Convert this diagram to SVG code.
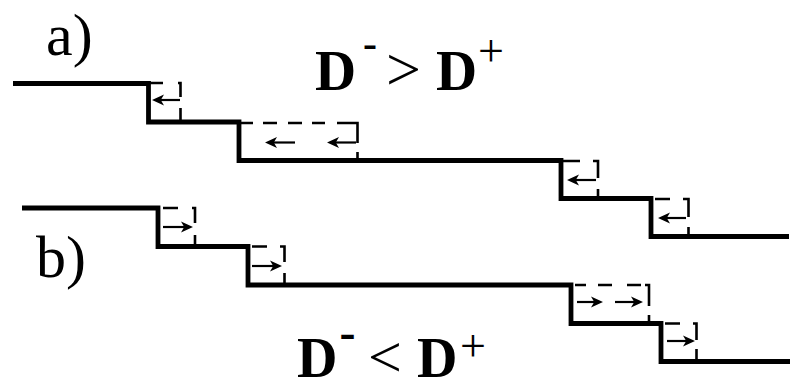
<svg xmlns="http://www.w3.org/2000/svg" width="792" height="381" viewBox="0 0 792 381">
<style>
.step{fill:none;stroke:#000;stroke-width:4.8;stroke-linejoin:miter;stroke-linecap:butt}
.dash{fill:none;stroke:#000;stroke-width:2.6;stroke-linejoin:miter;stroke-linecap:butt}
.arr{fill:none;stroke:#000;stroke-width:2.2;marker-end:url(#ah)}
.lbl{font-family:"Liberation Serif","Times New Roman",serif;font-size:60px;fill:#000}
.eq{font-family:"Liberation Serif","Times New Roman",serif;fill:#000}
.b{font-weight:bold}
</style>
<defs>
<marker id="ah" markerUnits="userSpaceOnUse" viewBox="0 0 12 12" markerWidth="12" markerHeight="12" refX="7" refY="6" orient="auto">
<path d="M0,0.6 L12,6 L0,11.4 L3.2,6 Z" fill="#000"/>
</marker>
</defs>
<rect width="792" height="381" fill="#fff"/>
<g id="staircase-a">
<polyline class="step" points="13,83.5 148.5,83.5 148.5,122 239,122 239,160.5 561,160.5 561,198.5 651,198.5 651,236.5 789,236.5"/>
</g>
<g id="staircase-b">
<polyline class="step" points="22,208 158,208 158,246.5 248,246.5 248,285 571,285 571,323.5 661,323.5 661,361.5 790,361.5"/>
</g>
<g id="box-a1"><path class="dash" d="M150,83 H163 M178,83 H180.5 V97 M180.5,108 V121"/></g>
<g id="box-a2"><path class="dash" d="M241,123 H253 M263,123 H277 M288,123 H302 M312,123 H325 M337,123 H357.5 V143 M357.5,152 V159"/></g>
<g id="box-a3"><path class="dash" d="M563,161 H580 M593,161 H598 V178 M598,189 V198"/></g>
<g id="box-a4"><path class="dash" d="M655,199 H670 M683,199 H688.5 V217 M688.5,227 V235"/></g>
<g id="box-b1"><path class="dash" d="M163,208 H178 M192,208 H195 V223 M195,235 V245"/></g>
<g id="box-b2"><path class="dash" d="M252,246.5 H267 M280,246.5 H284.5 V262 M284.5,273 V284"/></g>
<g id="box-b3"><path class="dash" d="M575,285 H586 M598,285 H612 M627,285 H641 M645,285 H649 V306 M649,315 V322"/></g>
<g id="box-b4"><path class="dash" d="M665,323.5 H680 M693,323.5 H696.5 V340 M696.5,349 V360"/></g>
<g id="connectors">
<line class="arr" x1="180" y1="100" x2="157" y2="100"/>
<line class="arr" x1="295" y1="142.5" x2="270" y2="142.5"/>
<line class="arr" x1="356" y1="142.5" x2="332" y2="142.5"/>
<line class="arr" x1="596" y1="180" x2="572" y2="180"/>
<line class="arr" x1="686" y1="218" x2="663" y2="218"/>
<line class="arr" x1="163" y1="227" x2="188" y2="227"/>
<line class="arr" x1="252" y1="266" x2="277" y2="266"/>
<line class="arr" x1="577" y1="302" x2="598" y2="302"/>
<line class="arr" x1="615" y1="302" x2="638" y2="302"/>
<line class="arr" x1="667" y1="341" x2="690" y2="341"/>
</g>
<g id="label-a"><text class="lbl" x="46" y="54.5">a)</text></g>
<g id="label-b"><text class="lbl" x="36" y="277">b)</text></g>
<g id="eq-a">
<text class="eq b" x="315" y="90" font-size="57">D</text>
<text class="eq b" x="363" y="57" font-size="42">-</text>
<text class="eq" x="386" y="90" font-size="62">&gt;</text>
<text class="eq b" x="436" y="90" font-size="57">D</text>
<text class="eq" x="478" y="66" font-size="46">+</text>
</g>
<g id="eq-b">
<text class="eq b" x="297" y="377" font-size="56">D</text>
<text class="eq b" x="339.5" y="348" font-size="48">-</text>
<text class="eq" x="368" y="377" font-size="60">&lt;</text>
<text class="eq b" x="417" y="377" font-size="56">D</text>
<text class="eq" x="460" y="361" font-size="46">+</text>
</g>
</svg>
